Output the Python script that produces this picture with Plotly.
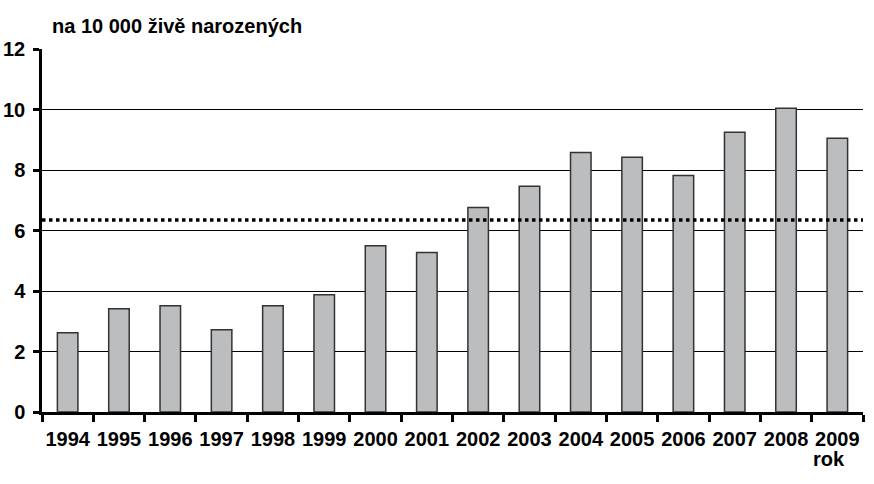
import plotly.graph_objects as go

years = ["1994", "1995", "1996", "1997", "1998", "1999", "2000", "2001",
         "2002", "2003", "2004", "2005", "2006", "2007", "2008", "2009"]
values = [2.62, 3.41, 3.51, 2.72, 3.51, 3.88, 5.50, 5.27,
          6.76, 7.46, 8.58, 8.42, 7.82, 9.25, 10.04, 9.05]
average_value = 6.35
y_ticks = [0, 2, 4, 6, 8, 10, 12]
y_title = "na 10 000 živě narozených"
x_title = "rok"

FONT = "Liberation Sans, Arial, sans-serif"

fig = go.Figure()
fig.add_trace(go.Bar(
    x=years, y=values,
    marker=dict(color="#bcbdbf", line=dict(color="#333333", width=1.5)),
    hoverinfo="x+y",
))

fig.add_shape(type="line", xref="paper", yref="y", x0=0, x1=1,
              y0=average_value, y1=average_value,
              line=dict(color="black", width=3.5, dash="dot"), layer="above")

fig.add_annotation(text=y_title, xref="paper", yref="paper", x=0.01, y=1,
                   xanchor="left", yanchor="middle", yshift=23, showarrow=False,
                   font=dict(family=FONT, size=20, color="black", weight="bold"))
fig.add_annotation(text=x_title, xref="paper", yref="paper", x=0.958, y=0,
                   xanchor="center", yanchor="middle", yshift=-47, showarrow=False,
                   font=dict(family=FONT, size=20, color="black", weight="bold"))

fig.update_layout(
    width=874, height=484,
    margin=dict(l=42, r=11, t=49, b=72),
    paper_bgcolor="white", plot_bgcolor="white",
    bargap=0.6,
    showlegend=False,
    font=dict(family=FONT, size=20, color="black", weight="bold"),
)
fig.update_xaxes(
    type="category", showline=True, linecolor="black", linewidth=2.5,
    ticks="outside", ticklen=7, tickwidth=2.5, tickcolor="black",
    tickson="boundaries", showgrid=False, automargin=False, tickangle=0,
    ticklabelstandoff=7,
    tickfont=dict(family=FONT, size=20, color="black", weight="bold"),
)
fig.update_yaxes(
    range=[0, 12], tickvals=y_ticks, showline=True, linecolor="black", linewidth=2.5,
    ticks="outside", ticklen=6, tickwidth=2.5, tickcolor="black", automargin=False,
    ticklabelstandoff=4,
    showgrid=True, gridcolor="black", gridwidth=1, zeroline=False,
    tickfont=dict(family=FONT, size=20, color="black", weight="bold"),
)

fig.write_html(
    "out.html",
    config={"displayModeBar": False},
    post_script="document.body.style.margin='0';document.body.style.overflow='hidden';",
)
